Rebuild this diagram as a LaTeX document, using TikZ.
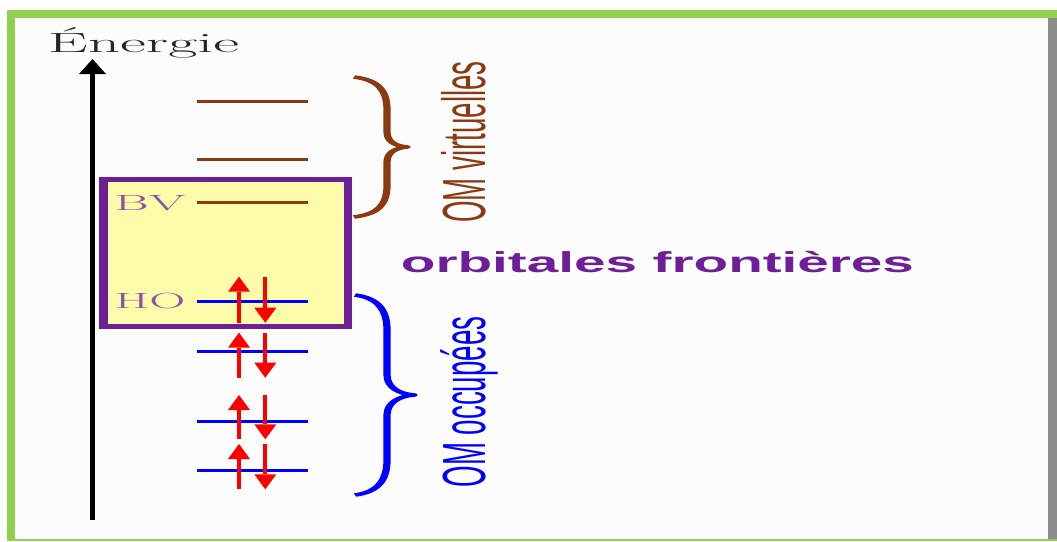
\documentclass[tikz,border=0pt]{standalone}
\usepackage{fontspec}
\usetikzlibrary{arrows.meta}
\newfontfamily\lsans{Liberation Sans}
\definecolor{framegreen}{RGB}{146,208,80}
\definecolor{brownom}{RGB}{139,58,16}
\definecolor{purpbox}{RGB}{110,30,150}
\definecolor{yellowbox}{RGB}{252,252,170}
\definecolor{purplabel}{RGB}{145,80,165}
\definecolor{grayedge}{RGB}{140,140,140}
\definecolor{bluelvl}{RGB}{0,0,255}
\definecolor{redspin}{RGB}{255,0,0}
\tikzset{
  lvlbrown/.style={draw=brownom,line width=3.5pt},
  lvlblue/.style={draw=bluelvl,line width=3.5pt},
  spin/.style={draw=redspin,line width=4pt,-{Triangle[length=15pt,width=22pt,line width=0pt]}},
  lbl/.style={inner sep=0pt,anchor=base},
}
\begin{document}
\begin{tikzpicture}[x=1pt,y=-1pt]
\useasboundingbox (0,0) rectangle (1057,541);
% frame
\fill[white] (0,0) rectangle (1057,541);
\fill[framegreen] (7,10) rectangle (1057,541);
\fill[white!99!black] (15,18) rectangle (1057,539);
\fill[grayedge] (1048,18) rectangle (1057,539);
% energy axis
\coordinate (axbot) at (92.5,520);
\coordinate (axtop) at (92.5,59);
\draw[line width=5pt,-{Triangle[length=15pt,width=27pt,line width=0pt]}] (axbot) -- (axtop);
\node[lbl,text=black!85] (energie) at (143.5,52) {\fontsize{27.8}{30}\selectfont\scalebox{2.28}[1]{Énergie}};
% frontier box
\fill[purpbox] (99,177) rectangle (352,329);
\fill[yellowbox] (107.5,182) rectangle (343.5,324);
\node[lbl,text=purplabel] (bv) at (150,210) {\fontsize{22}{24}\selectfont\scalebox{2.4}[1]{BV}};
\node[lbl,text=purplabel] (ho) at (150,308) {\fontsize{22}{24}\selectfont\scalebox{2.27}[1]{HO}};
% virtual levels
\draw[lvlbrown] (197,101.7) -- (308,101.7);
\draw[lvlbrown] (197,159.7) -- (308,159.7);
\draw[lvlbrown] (197,202.7) -- (308,202.7);
% occupied levels
\foreach \y in {301.7,351.7,421.7,470.7}{
  \draw[lvlblue] (197,\y) -- (308,\y);
}
% spins
\foreach \a/\b in {276.7/322.7,332.7/377.7,395/439.3,444/489.3}{
  \draw[spin] (239,\b) -- (239,\a);
  \draw[spin] (265.3,\a) -- (265.3,\b);
}
% braces (horizontally stretched)
\begin{scope}[transform canvas={xscale=2},line width=3.6pt,line join=round]
\draw[brownom] ({354/2},77) .. controls ({378/2},80) and ({387/2},90) .. ({387/2},110)
  -- ({387/2},132) .. controls ({387/2},142) and ({396/2},146) .. ({407/2},147)
  .. controls ({396/2},148) and ({387/2},152) .. ({387/2},162)
  -- ({387/2},185) .. controls ({387/2},205) and ({378/2},214) .. ({354/2},217);
\draw[bluelvl] ({355/2},295) .. controls ({378/2},298) and ({387/2},310) .. ({387/2},330)
  -- ({387/2},375) .. controls ({387/2},388) and ({400/2},394) .. ({414/2},395)
  .. controls ({400/2},396) and ({387/2},402) .. ({387/2},415)
  -- ({387/2},460) .. controls ({387/2},480) and ({378/2},492) .. ({355/2},495);
\end{scope}
% labels
\node[lbl,text=brownom,rotate=90] (virt) at (485,142) {\lsans\fontsize{27.7}{30}\selectfont\scalebox{1}[2.2]{OM virtuelles}};
\node[lbl,text=bluelvl,rotate=90] (occ) at (485,402) {\lsans\fontsize{27.7}{30}\selectfont\scalebox{1}[2.2]{OM occupées}};
\node[lbl,text=purpbox] (front) at (657.5,272) {\lsans\bfseries\fontsize{28.9}{30}\selectfont\scalebox{1.96}[1]{orbitales frontières}};
\end{tikzpicture}
\end{document}
